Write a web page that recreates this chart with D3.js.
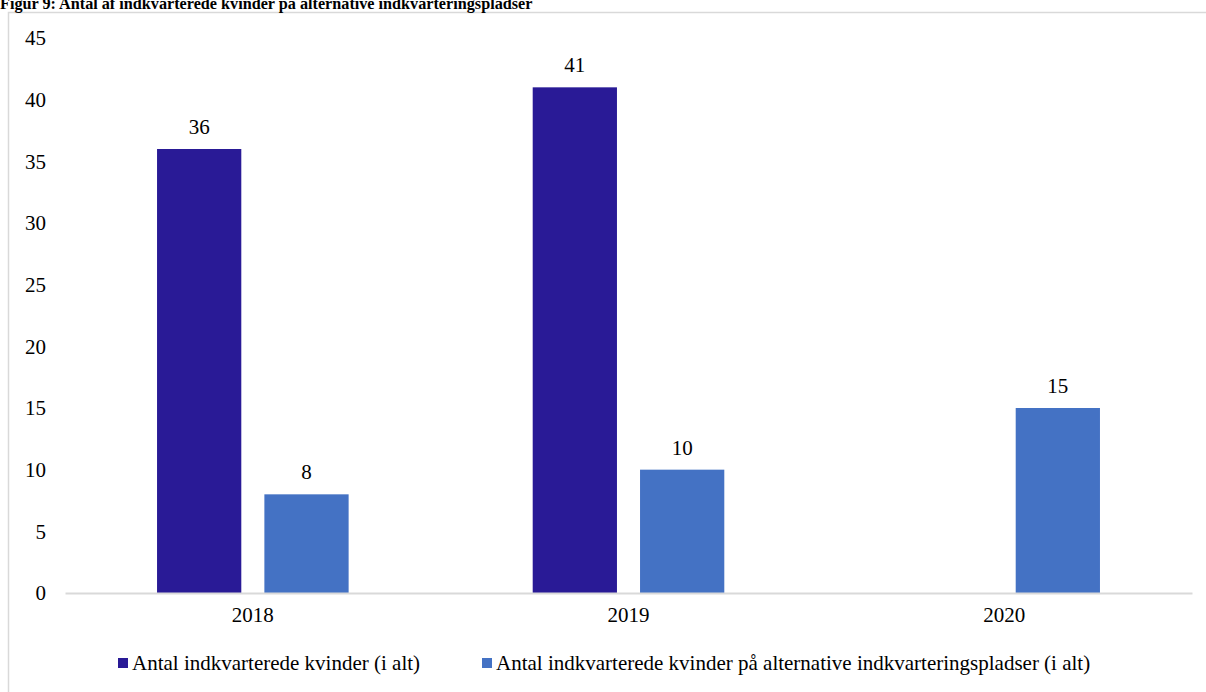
<!DOCTYPE html>
<html><head><meta charset="utf-8">
<script src="https://cdn.jsdelivr.net/npm/d3@7"></script>
<style>body{margin:0;background:#fff;}svg{display:block;}</style>
</head><body>
<svg id="c" width="1206" height="692"></svg>
<script>
const title = "Figur 9: Antal af indkvarterede kvinder på alternative indkvarteringspladser";
const categories = ["2018", "2019", "2020"];
const seriesNames = ["Antal indkvarterede kvinder (i alt)", "Antal indkvarterede kvinder på alternative indkvarteringspladser (i alt)"];
const seriesTotal = [36, 41, null];
const seriesAlt = [8, 10, 15];
const yTicks = [0, 5, 10, 15, 20, 25, 30, 35, 40, 45];
const colors = ["#291a96", "#4472c4"];

const svg = d3.select("#c");
const font = "'Liberation Serif','Times New Roman',serif";

svg.append("rect").attr("x", 8.5).attr("y", 12.5).attr("width", 1300).attr("height", 800)
  .attr("fill", "none").attr("stroke", "#d9d9d9").attr("stroke-width", 1.5);

svg.append("text").attr("x", 0).attr("y", 9).attr("font-family", font).attr("font-weight", "bold")
  .attr("font-size", 16.2).attr("fill", "#000").text(title);

const m = {left: 65, right: 1192, top: 38, bottom: 593};
const x0 = d3.scaleBand().domain(categories).range([m.left, m.right]).paddingInner(0.49).paddingOuter(0.245);
const x1 = d3.scaleBand().domain([0, 1]).range([0, x0.bandwidth()]).paddingInner(0.215);
const y = d3.scaleLinear().domain([0, 45]).range([m.bottom, m.top]);

const series = [seriesTotal, seriesAlt];
const rows = [];
categories.forEach((c, i) => series.forEach((s, j) => { if (s[i] != null) rows.push({c, j, v: s[i]}); }));

const g = svg.append("g");
g.selectAll("rect.bar").data(rows).join("rect").attr("class", "bar")
  .attr("x", d => x0(d.c) + x1(d.j)).attr("width", x1.bandwidth())
  .attr("y", d => y(d.v)).attr("height", d => y(0) - y(d.v))
  .attr("fill", d => colors[d.j]);

g.selectAll("text.lbl").data(rows).join("text").attr("class", "lbl")
  .attr("x", d => x0(d.c) + x1(d.j) + x1.bandwidth() / 2).attr("y", d => y(d.v) - 15)
  .attr("text-anchor", "middle").attr("font-family", font).attr("font-size", 21).attr("fill", "#000")
  .text(d => d.v);

// y axis labels
const yAxis = d3.axisLeft(y).tickValues(yTicks).tickSize(0).tickPadding(19);
const ya = svg.append("g").attr("transform", `translate(${m.left},0)`).call(yAxis);
ya.select(".domain").remove();
ya.selectAll("text").attr("font-family", font).attr("font-size", 21).attr("fill", "#000").attr("dy", "0.32em");

// x axis
const xAxis = d3.axisBottom(x0).tickSize(0).tickPadding(14);
const xa = svg.append("g").attr("transform", `translate(0,${m.bottom})`).call(xAxis);
xa.select(".domain").attr("stroke", "#d9d9d9").attr("stroke-width", 2);
xa.selectAll("text").attr("font-family", font).attr("font-size", 21).attr("fill", "#000");

// legend
const legX = [118, 482];
const lg = svg.append("g");
seriesNames.forEach((n, i) => {
  lg.append("rect").attr("x", legX[i]).attr("y", 658).attr("width", 10).attr("height", 10).attr("fill", colors[i]);
  lg.append("text").attr("x", legX[i] + 14).attr("y", 670).attr("font-family", font).attr("font-size", 21)
    .attr("fill", "#000").text(n);
});
</script>
</body></html>
